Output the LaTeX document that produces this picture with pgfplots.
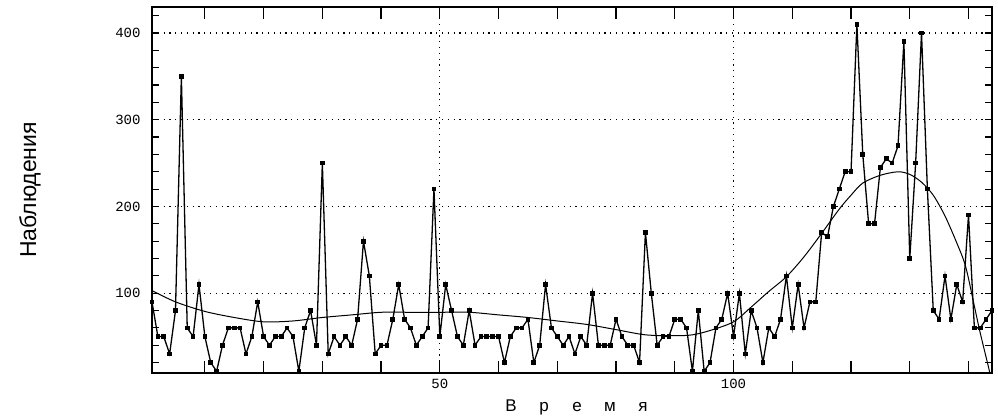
\documentclass[border=0pt]{standalone}
\usepackage{fontspec}
\setmainfont{Liberation Sans}
\newfontfamily\monofont{Liberation Mono}
\usepackage{pgfplots}
\pgfplotsset{compat=1.18}
\newcommand{\lsp}[1]{\makebox[33pt][c]{#1}}
\pgfplotsset{base/.style={
  scale only axis, width=840pt, height=366pt,
  xmin=1, xmax=144, ymin=8, ymax=430,
  tick style={black, line width=1.2pt},
  xtick style={/pgfplots/major tick length=12pt},
  ytick style={/pgfplots/major tick length=7pt},
}}
\begin{document}
\begin{tikzpicture}
\begin{axis}[base,
  name=ax,
  axis line style={line width=1.6pt},
  /pgf/number format/assume math mode=true,
  ticklabel style={font=\monofont\fontsize{14}{15}\selectfont},
  xtick={10,20,...,140}, xticklabels={,,,,50,,,,,100,,,,},
  extra x ticks={50,100}, extra x tick labels={}, extra x tick style={grid=major},
  ytick={20,40,...,420}, yticklabels={,,,,100,,,,,200,,,,,300,,,,,400,},
  extra y ticks={100,200,300,400}, extra y tick labels={}, extra y tick style={grid=major},
  major grid style={black, line width=1.2pt, dash pattern=on 1.2pt off 4.6pt},
  xticklabel style={yshift=-3pt},
  yticklabel style={xshift=-8pt},
  xlabel={\fontsize{17}{18}\selectfont\lsp{В}\lsp{р}\lsp{е}\lsp{м}\lsp{я}},
  xlabel style={at={(axis description cs:0.5,0)}, anchor=center, yshift=-34pt, xshift=5pt},
  ylabel={\fontsize{23}{24}\selectfont Наблюдения},
  ylabel style={at={(axis description cs:-0.1452,0.5)}, anchor=center},
]
\addplot[black, line width=1pt, smooth] coordinates {
(1,103) (5,90) (10,79) (15,72) (20,67) (25,68) (30,72) (35,75) (40,78) (45,78)
(50,78) (55,78) (60,75) (65,72) (70,68) (75,64) (80,58) (85,52) (90,51) (93,52)
(96,57) (100,67) (103,84) (106,102) (109,119) (112,142) (115,169) (118,197)
(120,213) (122,227) (125,236) (128,240) (130,237) (132,228) (134,213) (136,189)
(138,158) (139.5,131) (141,85) (142,54) (143.5,12) (144,-5)
};
\addplot[black, line width=1.3pt, mark=square*, mark size=1.7pt, mark options={solid}] coordinates {
(1,90) (2,50) (3,50) (4,30) (5,80) (6,350) (7,60) (8,50) (9,110) (10,50)
(11,20) (12,10) (13,40) (14,60) (15,60) (16,60) (17,30) (18,50) (19,90) (20,50)
(21,40) (22,50) (23,50) (24,60) (25,50) (26,10) (27,60) (28,80) (29,40) (30,250)
(31,30) (32,50) (33,40) (34,50) (35,40) (36,70) (37,160) (38,120) (39,30) (40,40)
(41,40) (42,70) (43,110) (44,70) (45,60) (46,40) (47,50) (48,60) (49,220) (50,50)
(51,110) (52,80) (53,50) (54,40) (55,80) (56,40) (57,50) (58,50) (59,50) (60,50)
(61,20) (62,50) (63,60) (64,60) (65,70) (66,20) (67,40) (68,110) (69,60) (70,50)
(71,40) (72,50) (73,30) (74,50) (75,40) (76,100) (77,40) (78,40) (79,40) (80,70)
(81,50) (82,40) (83,40) (84,20) (85,170) (86,100) (87,40) (88,50) (89,50) (90,70)
(91,70) (92,60) (93,10) (94,80) (95,10) (96,20) (97,60) (98,70) (99,100) (100,50)
(101,100) (102,30) (103,80) (104,60) (105,20) (106,60) (107,50) (108,70) (109,120) (110,60)
(111,110) (112,60) (113,90) (114,90) (115,170) (116,165) (117,200) (118,220) (119,240) (120,240)
(121,410) (122,260) (123,180) (124,180) (125,245) (126,255) (127,250) (128,270) (129,390) (130,140)
(131,250) (132,400) (133,220) (134,80) (135,70) (136,120) (137,70) (138,110) (139,90) (140,190)
(141,60) (142,60) (143,70) (144,80)
};
\pgfplotsinvokeforeach{10,20,30,40,50,60,70,80,90,100,110,120,130,140}{
  \draw[black, line width=1.2pt] (axis cs:#1,8) -- ++(0pt,12pt);
  \draw[black, line width=1.2pt] (axis cs:#1,430) -- ++(0pt,-12pt);
}
\pgfplotsinvokeforeach{20,40,60,80,100,120,140,160,180,200,220,240,260,280,300,320,340,360,380,400,420}{
  \draw[black, line width=1.2pt] (axis cs:1,#1) -- ++(7pt,0pt);
  \draw[black, line width=1.2pt] (axis cs:144,#1) -- ++(-7pt,0pt);
}
\end{axis}
\path (ax.south west) ++(-152pt,-43pt) rectangle ++(998pt,416pt);
\end{tikzpicture}
\end{document}
